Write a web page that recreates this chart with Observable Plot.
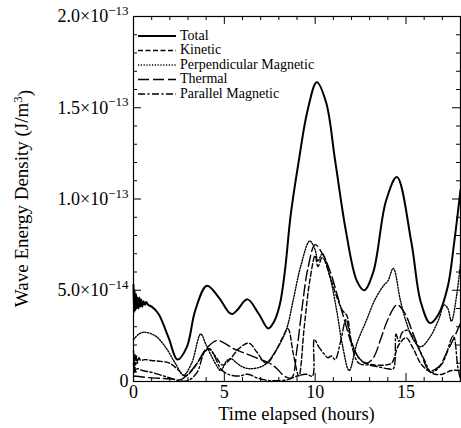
<!DOCTYPE html>
<html><head><meta charset="utf-8">
<script src="https://cdn.jsdelivr.net/npm/d3@7"></script>
<script src="https://cdn.jsdelivr.net/npm/@observablehq/plot@0.6"></script>
<style>body{margin:0;background:#fff}</style>
</head><body><div id="chart"></div>
<script>
// values in units of 1e-14 J/m^3, time in hours
const totalT = [0,0.03,0.06,0.1,0.14,0.18,0.22,0.27,0.32,0.37,0.42,0.48,0.55,0.62,0.7,0.8,1.0,1.38,1.93,2.42,2.94,3.4,4.04,4.7,5.24,5.45,5.7,6.27,6.9,7.42,7.75,8.05,8.34,8.65,9.1,9.57,10.09,10.6,11.1,11.7,12.3,12.7,13.2,13.9,14.5,15.3,15.8,16.33,16.8,17.3,17.65,18];
const totalV = [5.3,3.8,5.0,3.9,4.8,4.0,4.6,4.0,4.6,4.1,4.5,4.1,4.4,4.2,4.35,4.2,4.1,3.7,2.4,1.2,1.9,3.9,5.25,4.6,3.8,3.7,3.9,4.5,3.7,2.9,3.3,4.2,6.1,9.1,12.1,14.8,16.4,15.3,12.1,8.2,5.5,5.0,6.0,9.9,11.2,7.6,4.4,3.2,3.7,5.2,7.6,10.5];

const kineticT = [0,0.04,0.08,0.12,0.17,0.22,0.3,0.4,0.6,1.0,1.5,2.0,2.5,2.85,3.3,3.7,4.1,4.5,4.9,5.3,5.8,6.35,6.8,7.3,7.8,8.2,8.5,8.8,9.1,9.4,9.7,10.0,10.15,10.4,10.8,11.2,11.5,11.75,12.0,12.4,12.8,13.3,13.8,14.2,14.6,15.0,15.4,15.8,16.2,16.6,17.0,17.5,18];
const kineticV = [1.7,0.8,1.5,0.9,1.4,1.0,1.3,1.15,1.2,1.15,1.1,1.0,0.6,0.3,0.7,1.3,1.8,1.4,0.9,1.2,1.8,2.1,1.6,1.0,1.6,2.4,2.9,1.5,0.3,3.0,5.5,6.9,6.3,6.8,5.8,4.6,3.9,3.6,2.2,1.3,1.0,0.9,0.9,1.0,2.0,2.4,1.8,1.0,0.6,0.4,0.4,0.6,0.6];

const perpT = [0,0.3,0.6,1.2,1.75,2.3,2.75,3.2,3.7,4.0,4.5,4.8,5.1,5.35,5.7,6.0,6.45,7.2,7.9,8.4,8.8,9.2,9.7,10.0,10.15,10.4,10.8,11.2,11.5,11.87,12.3,12.8,13.3,13.8,14.0,14.3,14.7,15.0,15.4,15.8,16.3,16.8,17.1,17.3,17.5,17.8,18];
const perpV = [2.3,2.6,2.7,2.5,1.9,1.0,0.35,1.0,2.6,2.0,1.0,0.6,1.1,1.25,1.0,0.8,0.7,0.9,1.8,2.8,4.5,6.3,7.7,7.2,6.6,7.0,5.8,3.8,2.0,0.6,2.1,3.3,4.5,5.3,5.5,6.2,4.4,3.3,2.3,1.9,2.4,3.4,4.2,4.0,3.3,4.8,6.5];

const thermalT = [0,1,2,2.6,3.0,3.5,4.0,4.6,5.0,5.5,6.0,6.5,7.0,7.5,7.9,8.3,8.7,9.0,9.3,9.6,10.0,10.4,10.8,11.2,11.6,12.0,12.4,12.8,13.2,13.6,14.0,14.5,14.9,15.4,15.8,16.3,16.8,17.2,17.6,18];
const thermalV = [0.3,0.2,0.15,0.1,0.4,1.0,1.8,2.25,2.1,1.8,1.6,1.4,1.2,1.0,0.7,0.3,0.2,1.8,4.2,6.2,7.5,7.0,6.1,4.8,3.4,2.1,1.3,1.0,1.3,2.3,3.4,4.2,3.8,2.6,1.6,0.6,0.8,1.5,2.3,3.2];

const parallelT = [0,0.04,0.08,0.13,0.2,0.5,1.0,1.5,2.0,2.5,3.0,3.5,3.9,4.2,4.5,4.8,5.2,5.8,6.3,6.8,7.5,8.5,9.0,9.5,9.85,9.95,10.2,10.5,10.7,10.9,11.1,11.4,11.7,12.0,12.4,13.0,13.5,14.0,14.3,14.45,14.6,14.8,15.1,15.5,16.0,16.4,17.0,17.6,17.85,18];
const parallelV = [1.0,0.5,0.8,0.5,0.7,0.6,0.5,0.35,0.2,0.05,0.05,0.5,1.6,1.8,1.3,0.7,0.4,0.3,0.4,0.2,0.05,0.1,0.3,0.4,0.3,2.3,1.9,1.5,1.3,1.4,1.2,2.2,3.4,2.0,1.0,0.9,0.8,0.7,0.7,2.6,2.2,2.7,2.8,2.2,1.2,0.5,1.0,2.5,0.8,0.1];

const seriesNames = ["Total","Kinetic","Perpendicular Magnetic","Thermal","Parallel Magnetic"];
const xMajor = [0,5,10,15];
const xMinor = [1,2,3,4,6,7,8,9,11,12,13,14,16,17];
const yMajor = [0,5e-14,1e-13,1.5e-13,2e-13];
const yMinor = [1e-14,2e-14,3e-14,4e-14,6e-14,7e-14,8e-14,9e-14,1.1e-13,1.2e-13,1.3e-13,1.4e-13,1.6e-13,1.7e-13,1.8e-13,1.9e-13];
const xLabel = "Time elapsed (hours)";
const yLabel = "Wave Energy Density (J/m";

const styles = {
  "Total": {width: 2, dash: null},
  "Kinetic": {width: 1.4, dash: "5,2.5"},
  "Perpendicular Magnetic": {width: 1.4, dash: "1.2,1.6"},
  "Thermal": {width: 1.4, dash: "11,4"},
  "Parallel Magnetic": {width: 1.4, dash: "7,2.5,2,2.5"}
};

function zip(name, T, V) { return T.map((t, i) => ({series: name, t, v: V[i] * 1e-14})); }
const data = {
  "Total": zip("Total", totalT, totalV),
  "Kinetic": zip("Kinetic", kineticT, kineticV),
  "Perpendicular Magnetic": zip("Perpendicular Magnetic", perpT, perpV),
  "Thermal": zip("Thermal", thermalT, thermalV),
  "Parallel Magnetic": zip("Parallel Magnetic", parallelT, parallelV)
};

const W = 461, H = 428, mL = 133, mR = 1, mT = 16, mB = 47;
const innerW = W - mL - mR, innerH = H - mT - mB;
const major = 8, minor = 4;

function fmt(d) {
  if (d === 0) return "0";
  const e = Math.floor(Math.log10(d) + 1e-9);
  const m = d / Math.pow(10, e);
  return m.toFixed(1) + "×10^−" + (-e);
}

const lineMarks = seriesNames.slice().reverse().map(name => Plot.line(data[name], {
  x: "t", y: "v", stroke: "black", strokeWidth: styles[name].width,
  strokeDasharray: styles[name].dash, curve: "catmull-rom"
}));

const chart = Plot.plot({
  width: W, height: H, marginLeft: mL, marginRight: mR, marginTop: mT, marginBottom: mB,
  style: {fontFamily: "Liberation Serif", fontSize: "18px", background: "white", color: "black"},
  x: {domain: [0, 18]},
  y: {domain: [0, 2e-13]},
  marks: [
    ...lineMarks,
    Plot.tickX(xMajor, {x: d => d, insetTop: innerH - major, stroke: "black"}),
    Plot.tickX(xMinor, {x: d => d, insetTop: innerH - minor, stroke: "black"}),
    Plot.tickX(xMajor, {x: d => d, insetBottom: innerH - major, stroke: "black"}),
    Plot.tickX(xMinor, {x: d => d, insetBottom: innerH - minor, stroke: "black"}),
    Plot.tickY(yMajor, {y: d => d, insetRight: innerW - major, stroke: "black"}),
    Plot.tickY(yMinor, {y: d => d, insetRight: innerW - minor, stroke: "black"}),
    Plot.tickY(yMajor, {y: d => d, insetLeft: innerW - major, stroke: "black"}),
    Plot.tickY(yMinor, {y: d => d, insetLeft: innerW - minor, stroke: "black"}),
    Plot.frame({stroke: "black", strokeWidth: 1.2}),
    Plot.axisX({ticks: xMajor, tickSize: 0, tickPadding: 4, tickFormat: d => String(d), fontSize: 18, label: null}),
    Plot.axisY({ticks: yMajor, tickSize: 0, tickPadding: 5, tickFormat: fmt, fontSize: 18, label: null})
  ]
});
document.getElementById("chart").appendChild(chart);

const svg = d3.select(chart);
// superscript exponents on y tick labels
svg.selectAll('g[aria-label="y-axis tick label"] text').each(function() {
  const s = this.textContent;
  if (s.indexOf("^") < 0) return;
  const [base, ex] = s.split("^");
  const t = d3.select(this);
  t.text(base);
  t.append("tspan").attr("dy", "-0.55em").attr("font-size", "13px").text(ex);
});

// axis labels
svg.append("text").attr("x", mL + innerW / 2).attr("y", 420).attr("text-anchor", "middle")
  .attr("font-family", "Liberation Serif").attr("font-size", "18.5px").attr("fill", "black").text(xLabel);
const yl = svg.append("text").attr("transform", `translate(28,${mT + innerH / 2}) rotate(-90)`)
  .attr("text-anchor", "middle").attr("font-family", "Liberation Serif").attr("font-size", "19px").attr("fill", "black");
yl.append("tspan").text(yLabel);
yl.append("tspan").attr("dy", "-0.5em").attr("font-size", "13px").text("3");
yl.append("tspan").attr("dy", "0.5em").text(")");

// legend
const lg = svg.append("g").attr("font-family", "Liberation Serif").attr("font-size", "14px").attr("text-anchor", "start");
seriesNames.forEach((name, i) => {
  const base = 39.5 + i * 14.5;
  lg.append("line").attr("x1", 138).attr("x2", 176).attr("y1", base - 3.5).attr("y2", base - 3.5)
    .attr("stroke", "black").attr("stroke-width", styles[name].width)
    .attr("stroke-dasharray", styles[name].dash);
  lg.append("text").attr("x", 180).attr("y", base).attr("fill", "black").attr("text-anchor", "start").text(name);
});
</script>
</body></html>
